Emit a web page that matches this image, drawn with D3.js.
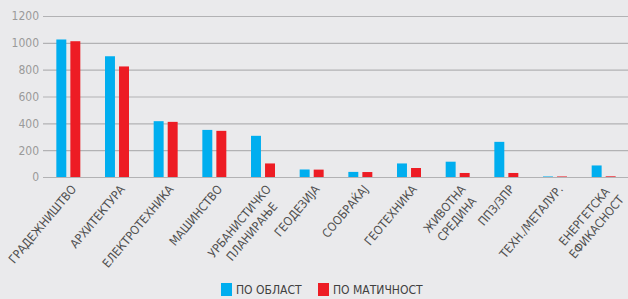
<!DOCTYPE html>
<html>
<head>
<meta charset="utf-8">
<script src="https://cdn.jsdelivr.net/npm/d3@7"></script>
<style>
  html, body { margin: 0; padding: 0; background: #eaeaec; }
  svg { display: block; }
  .tick-label { font-family: "Liberation Sans Narrow", "DejaVu Sans Condensed", sans-serif; font-size: 12px; fill: #9a9a9a; }
  .cat-label { font-family: "Liberation Sans Narrow", "DejaVu Sans Condensed", sans-serif; font-size: 12px; fill: #505050; }
  .legend-label { font-family: "Liberation Sans Narrow", "DejaVu Sans Condensed", sans-serif; font-size: 12px; fill: #404040; }
</style>
</head>
<body>
<svg id="chart" width="628" height="299"></svg>
<script>
// categories (multi-line labels split with "|")
var categories = ["ГРАДЕЖНИШТВО", "АРХИТЕКТУРА", "ЕЛЕКТРОТЕХНИКА", "МАШИНСТВО",
  "УРБАНИСТИЧКО|ПЛАНИРАЊЕ", "ГЕОДЕЗИЈА", "СООБРАЌАЈ", "ГЕОТЕХНИКА",
  "ЖИВОТНА|СРЕДИНА", "ППЗ/ЗПР", "ТЕХН./МЕТАЛУР.", "ЕНЕРГЕТСКА|ЕФИКАСНОСТ"];
var poOblast    = [1025, 900, 416, 351, 307, 56, 38, 101, 114, 262, 4, 86];
var poMaticnost = [1012, 824, 411, 344, 101, 55, 37, 67, 30, 30, 4, 5];
var seriesNames = ["ПО ОБЛАСТ", "ПО МАТИЧНОСТ"];
var seriesColors = ["#00aeef", "#ed1c24"];
var yTicks = [0, 200, 400, 600, 800, 1000, 1200];

var svg = d3.select("#chart");
var width = 628, height = 299;
var plot = {left: 44, right: 628, top: 16, bottom: 177};

var x = d3.scaleBand()
  .domain(d3.range(categories.length))
  .range([plot.left, plot.right]);

var x1 = d3.scaleBand()
  .domain([0, 1])
  .range([0, x.bandwidth()])
  .paddingInner(0.29)
  .paddingOuter(0.88);

var y = d3.scaleLinear()
  .domain([0, 1200])
  .range([plot.bottom, plot.top]);

svg.append("rect").attr("width", width).attr("height", height).attr("fill", "#eaeaec");

// gridlines + y labels
var yAxis = svg.append("g")
  .attr("transform", "translate(" + (plot.left - 1) + ",0)")
  .call(d3.axisLeft(y).tickValues(yTicks).tickFormat(d3.format("d"))
    .tickSize(-(plot.right - plot.left + 1)).tickPadding(4));
yAxis.select(".domain").remove();
yAxis.selectAll(".tick line").attr("stroke", "#b2b2b4").attr("stroke-width", 1.2);
yAxis.selectAll(".tick text").attr("class", "tick-label").attr("font-family", null).attr("font-size", null);

// bars
var data = categories.map(function(c, i) { return [poOblast[i], poMaticnost[i]]; });
var groups = svg.append("g").selectAll("g")
  .data(data)
  .enter().append("g")
  .attr("transform", function(d, i) { return "translate(" + x(i) + ",0)"; });

groups.selectAll("rect")
  .data(function(d) { return d; })
  .enter().append("rect")
  .attr("x", function(d, j) { return x1(j); })
  .attr("y", function(d) { return y(d); })
  .attr("width", x1.bandwidth())
  .attr("height", function(d) { return y(0) - y(d); })
  .attr("fill", function(d, j) { return seriesColors[j]; });

// category labels, rotated, lines centred
var lineH = 16;
categories.forEach(function(c, i) {
  var lines = c.split("|");
  var cx = x(i) + x.bandwidth() / 2;
  var g = svg.append("g")
    .attr("transform", "translate(" + (cx + 2) + "," + (plot.bottom + 7) + ") rotate(-50)");
  var texts = lines.map(function(l, k) {
    return g.append("text").attr("class", "cat-label")
      .attr("dy", "0.72em")
      .attr("y", k * lineH)
      .attr("text-anchor", "middle")
      .text(l);
  });
  var w = d3.max(texts, function(t) { return t.node().getComputedTextLength(); });
  texts.forEach(function(t) { t.attr("x", -w / 2); });
});

// legend
var legend = [{x: 221, i: 0}, {x: 318, i: 1}];
legend.forEach(function(l) {
  svg.append("rect").attr("x", l.x).attr("y", 283).attr("width", 11).attr("height", 13)
    .attr("fill", seriesColors[l.i]);
  svg.append("text").attr("class", "legend-label")
    .attr("x", l.x + 15).attr("y", 294)
    .text(seriesNames[l.i]);
});
</script>
</body>
</html>
